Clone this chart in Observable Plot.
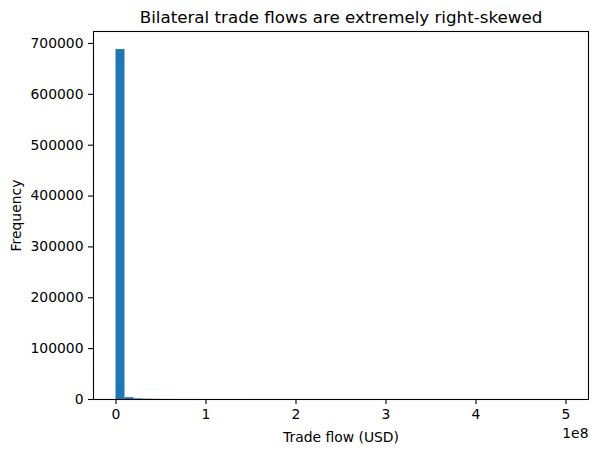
<!DOCTYPE html>
<html>
<head>
<meta charset="utf-8">
<script src="https://cdn.jsdelivr.net/npm/d3@7"></script>
<script src="https://cdn.jsdelivr.net/npm/@observablehq/plot@0.6"></script>
<style>
  html, body { margin: 0; padding: 0; background: #fff; }
  svg { font-family: "DejaVu Sans", sans-serif; }
</style>
</head>
<body>
<div id="chart"></div>
<script>
const title = "Bilateral trade flows are extremely right-skewed";
const xLabel = "Trade flow (USD)";
const yLabel = "Frequency";
const xOffsetLabel = "1e8";
// 50 equal-width bins from 0 to 5e8 USD
const binStart = 0;
const binWidth = 1e7;
const counts = [688000, 3600, 1300, 600, 300, 180, 110, 80, 55, 40,
                30, 24, 18, 14, 12, 10, 8, 7, 6, 5,
                4, 4, 3, 3, 3, 2, 2, 2, 2, 1,
                1, 1, 1, 1, 1, 1, 0, 1, 0, 0,
                1, 0, 0, 0, 1, 0, 0, 0, 0, 1];
const xTicks = [0, 1e8, 2e8, 3e8, 4e8, 5e8];
const yTicks = [0, 100000, 200000, 300000, 400000, 500000, 600000, 700000];

const bins = counts.map((c, i) => ({lo: binStart + i * binWidth, hi: binStart + (i + 1) * binWidth, count: c}));

const chart = Plot.plot({
  width: 598,
  height: 453,
  marginTop: 31,
  marginBottom: 54,
  marginLeft: 93,
  marginRight: 10,
  style: {fontFamily: "DejaVu Sans, sans-serif", fontSize: "13.9px", color: "#000", background: "#fff"},
  x: {domain: [-2.5e7, 5.25e8]},
  y: {domain: [0, 723500]},
  marks: [
    Plot.rectY(bins, {x1: "lo", x2: "hi", y: "count", fill: "#1f77b4"}),
    Plot.frame({stroke: "#000", strokeWidth: 1.1}),
    Plot.axisX({ticks: xTicks, tickFormat: d => String(d / 1e8), tickSize: 5, tickPadding: 5, label: null, fontSize: 13.9, stroke: "#000", strokeWidth: 1.1}),
    Plot.axisY({ticks: yTicks, tickFormat: d3.format("d"), tickSize: 5, tickPadding: 5, fontSize: 13.9, stroke: "#000", strokeWidth: 1.1,
      label: yLabel, labelAnchor: "center", labelArrow: "none", labelOffset: 82}),
    Plot.text([title], {frameAnchor: "top", dy: -14, fontSize: 16.7, fill: "#000", lineAnchor: "middle"}),
    Plot.text([xLabel], {frameAnchor: "bottom", dy: 38, fontSize: 13.9, fill: "#000", lineAnchor: "middle"}),
    Plot.text([xOffsetLabel], {frameAnchor: "bottom-right", dy: 34, textAnchor: "end", fontSize: 13.9, fill: "#000", lineAnchor: "middle"})
  ]
});
document.getElementById("chart").appendChild(chart);
</script>
</body>
</html>
